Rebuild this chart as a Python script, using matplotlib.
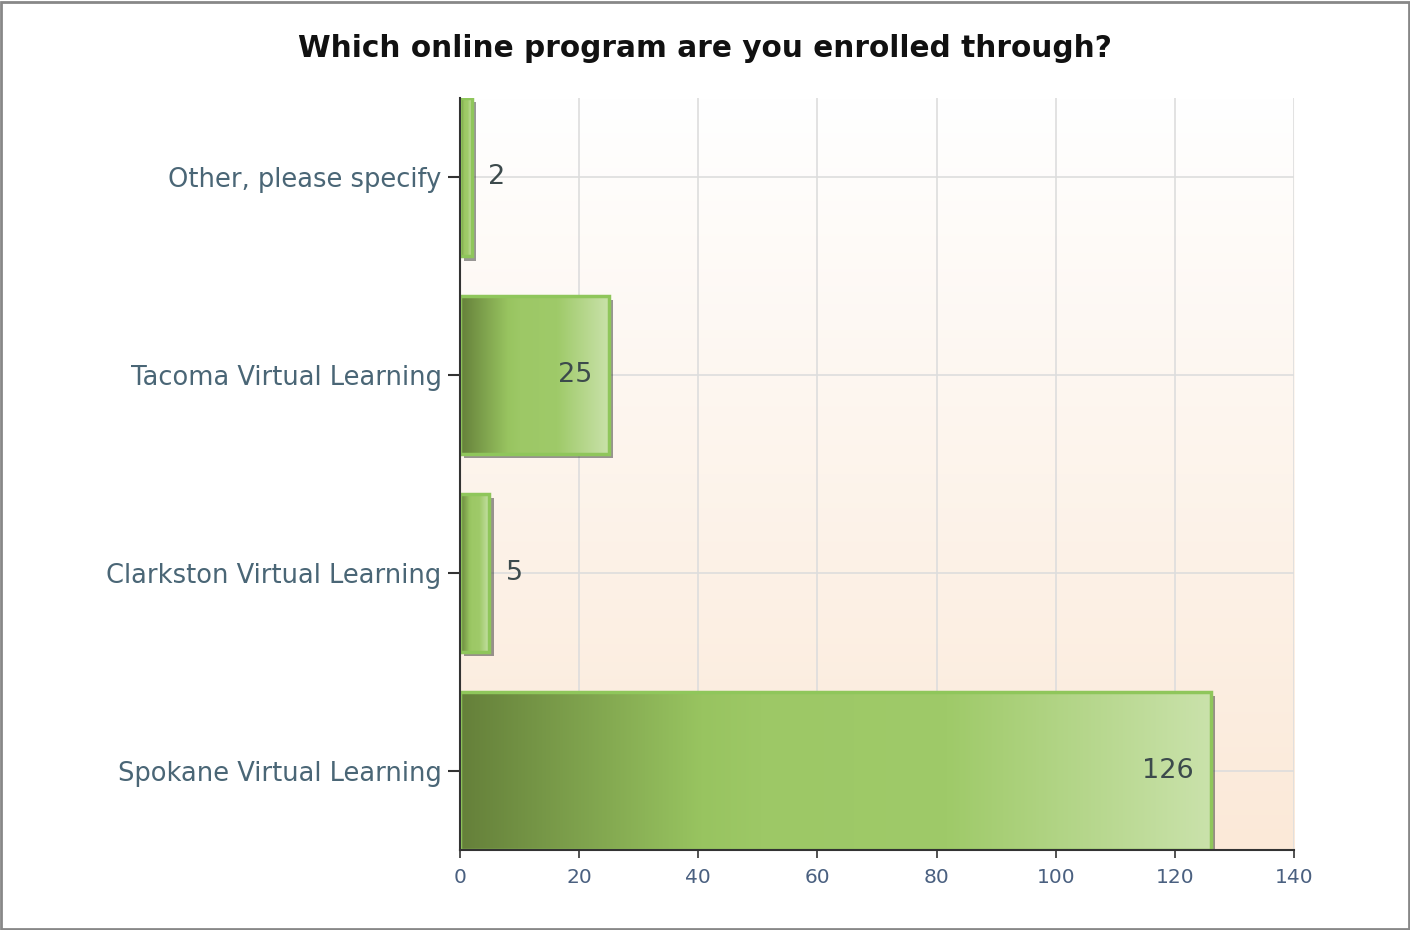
import matplotlib
matplotlib.use('Agg')
import matplotlib.pyplot as plt
import matplotlib.patheffects as pe
from matplotlib.colors import LinearSegmentedColormap, to_rgb
from matplotlib.patches import Rectangle
import numpy as np

# data
categories = ['Spokane Virtual Learning', 'Clarkston Virtual Learning',
              'Tacoma Virtual Learning', 'Other, please specify']
counts = [126, 5, 25, 2]
xticks = [0, 20, 40, 60, 80, 100, 120, 140]
title = 'Which online program are you enrolled through?'

fig = plt.figure(figsize=(14.1, 9.3), dpi=100)
ax = fig.add_axes([0.326, 0.086, 0.592, 0.8086])

ypos = np.arange(len(categories))
bar_h = 0.8

# background gradient white -> peach
top = np.array(to_rgb('#ffffff'))
bot = np.array(to_rgb('#fbe9d8'))
t = np.linspace(0, 1, 256)[:, None]
bg = (top * (1 - t) + bot * t)[:, None, :]
ax.imshow(bg, extent=(0, 140, -0.4, 3.4), aspect='auto', zorder=0, origin='upper')

bar_cmap = LinearSegmentedColormap.from_list('bar', [
    (0.0, '#65803a'), (0.32, '#98c460'), (0.4, '#9dc866'),
    (0.65, '#9fca69'), (1.0, '#cae2ab')])
grad = np.linspace(0, 1, 256)[None, :]

# shadows
ax.barh(ypos, counts, height=bar_h, color='none', edgecolor='none', zorder=2,
        path_effects=[pe.SimplePatchShadow(offset=(3, -3), shadow_rgbFace='#333333', alpha=0.5)])

for y, v in zip(ypos, counts):
    im = ax.imshow(grad, cmap=bar_cmap, extent=(0, v, y - bar_h / 2, y + bar_h / 2),
                   aspect='auto', zorder=3)
    clip = Rectangle((0, y - bar_h / 2), v, bar_h, transform=ax.transData)
    im.set_clip_path(clip)

ax.barh(ypos, counts, height=bar_h, color='none', edgecolor='#8fc65b', linewidth=2.5, zorder=4)

# value labels
for y, v in zip(ypos, counts):
    if v >= 20:
        ax.annotate(str(v), (v, y), xytext=(-12, 0), textcoords='offset points',
                    ha='right', va='center', fontsize=19.5, color='#3c4a4c', zorder=5)
    else:
        ax.annotate(str(v), (v, y), xytext=(12, 0), textcoords='offset points',
                    ha='left', va='center', fontsize=19.5, color='#3c4a4c', zorder=5)

ax.set_xlim(0, 140)
ax.set_ylim(-0.4, 3.4)
ax.set_xticks(xticks)
ax.set_yticks(ypos)
ax.set_yticklabels(categories)
ax.tick_params(axis='y', length=9, width=1.5, color='#333333', labelsize=18.5,
               labelcolor='#4a6676', pad=4)
ax.tick_params(axis='x', length=6, width=1.2, color='#333333', labelsize=14.5,
               labelcolor='#4a6080', pad=7)

ax.set_axisbelow(True)
ax.grid(True, color='#dddddd', linewidth=1.2, zorder=1)
for s in ['top', 'right']:
    ax.spines[s].set_visible(False)
for s in ['left', 'bottom']:
    ax.spines[s].set_color('#333333')
    ax.spines[s].set_linewidth(1.5)
    ax.spines[s].set_zorder(6)

fig.text(0.5, 0.948, title, ha='center', va='center', fontsize=21.3, fontweight='bold',
         color='#111111')

fig.patches.append(Rectangle((0.001, 0.001), 0.998, 0.997, transform=fig.transFigure,
                             fill=False, edgecolor='#888888', linewidth=2))

plt.savefig('out.png', dpi=100)
